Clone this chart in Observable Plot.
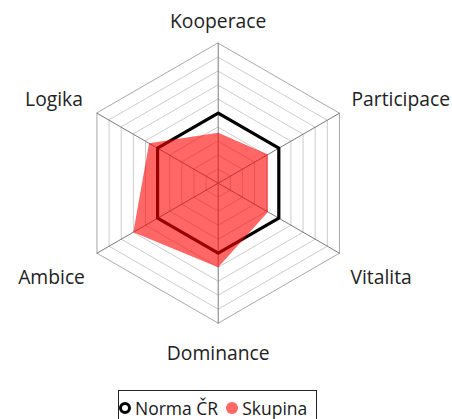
<!DOCTYPE html>
<html>
<head>
<meta charset="utf-8">
<script src="https://cdn.jsdelivr.net/npm/d3@7"></script>
<script src="https://cdn.jsdelivr.net/npm/@observablehq/plot@0.6"></script>
<style>
  html, body { margin: 0; padding: 0; background: #fff; }
  body { width: 452px; height: 419px; overflow: hidden; position: relative; font-family: "Open Sans", sans-serif; }
  #legend { position: absolute; left: 118px; top: 390px; width: 199px; height: 36px; border: 1px solid #222; box-sizing: border-box;
            display: flex; align-items: flex-start; padding-left: 0px; padding-top: 5px; font-size: 17.5px; line-height: 24px; color: #1a1a1a;
            white-space: nowrap; overflow: hidden; }
  .sw { display: inline-block; flex: 0 0 auto; width: 12px; height: 12px; border-radius: 50%; box-sizing: border-box; margin-right: 4px; }
  .item { display: inline-flex; flex: 0 0 auto; align-items: center; margin-right: 8px; white-space: nowrap; }
</style>
</head>
<body>
<div id="chart"></div>
<div id="legend"></div>
<script>
const categories = ["Kooperace", "Participace", "Vitalita", "Dominance", "Ambice", "Logika"];
const norma = [5, 5, 5, 5, 5, 5];
const skupina = [3.6, 4.1, 4.1, 6.0, 7.0, 5.7];
const levels = [1, 2, 3, 4, 5, 6, 7, 8, 9, 10];
const seriesNames = ["Norma ČR", "Skupina"];

const maxV = 10;
const ang = i => i * Math.PI / 3;
const px = (i, v) => v * Math.sin(ang(i));
const py = (i, v) => v * Math.cos(ang(i));

const ringData = levels.flatMap(l => categories.map((c, i) => ({level: l, i, v: l})));
const spokeData = categories.flatMap((c, i) => [{c, i, v: 0}, {c, i, v: maxV}]);
const normaData = categories.map((c, i) => ({c, i, v: norma[i]}));
const skupData = categories.map((c, i) => ({c, i, v: skupina[i]}));

// label placement styles (offsets in px)
const labelStyle = [
  {dx: 0, dy: -21, textAnchor: "middle"},
  {dx: 12, dy: -13, textAnchor: "start"},
  {dx: 11, dy: 24.5, textAnchor: "start"},
  {dx: 0, dy: 30.5, textAnchor: "middle"},
  {dx: -12, dy: 24.5, textAnchor: "end"},
  {dx: -14, dy: -13, textAnchor: "end"}
];
const labelData = categories.map((c, i) => ({c, i, v: maxV}));

const cx = 217.7, cy = 182.7, R = 140;

const marks = [
  Plot.line(ringData, {x: d => px(d.i, d.v), y: d => py(d.i, d.v), z: "level", curve: "linear-closed",
    stroke: d => d.level === 10 ? "#a8a8a8" : "#cccccc", strokeWidth: 1}),
  Plot.line(spokeData, {x: d => px(d.i, d.v), y: d => py(d.i, d.v), z: "c", stroke: "#7a7a7a", strokeWidth: 1}),
  Plot.line(normaData, {x: d => px(d.i, d.v), y: d => py(d.i, d.v), curve: "linear-closed", stroke: "#000", strokeWidth: 3.2, fill: "none"}),
  Plot.line(skupData, {x: d => px(d.i, d.v), y: d => py(d.i, d.v), curve: "linear-closed", fill: "rgb(255,0,0)", fillOpacity: 0.6, stroke: "none"}),
  ...labelData.map((d, k) => Plot.text([d], {x: d => px(d.i, d.v), y: d => py(d.i, d.v), text: "c",
    dx: labelStyle[k].dx, dy: labelStyle[k].dy, textAnchor: labelStyle[k].textAnchor, lineAnchor: "middle",
    fontSize: 19.3, fill: "#222", fontFamily: "Open Sans"}))
];

const chart = Plot.plot({
  width: 452,
  height: 388,
  margin: 0,
  x: {domain: [-maxV, maxV], range: [cx - R, cx + R], axis: null},
  y: {domain: [-maxV, maxV], range: [cy + R, cy - R], axis: null},
  style: {fontFamily: "Open Sans", background: "white", overflow: "visible"},
  marks
});
document.getElementById("chart").appendChild(chart);

const legend = document.getElementById("legend");
const swStyles = ["border: 3px solid #000; background: #fff;", "background: rgba(255,0,0,0.6);"];
seriesNames.forEach((n, k) => {
  const it = document.createElement("span");
  it.className = "item";
  it.innerHTML = `<span class="sw" style="${swStyles[k]}"></span><span>${n}</span>`;
  legend.appendChild(it);
});
</script>
</body>
</html>
